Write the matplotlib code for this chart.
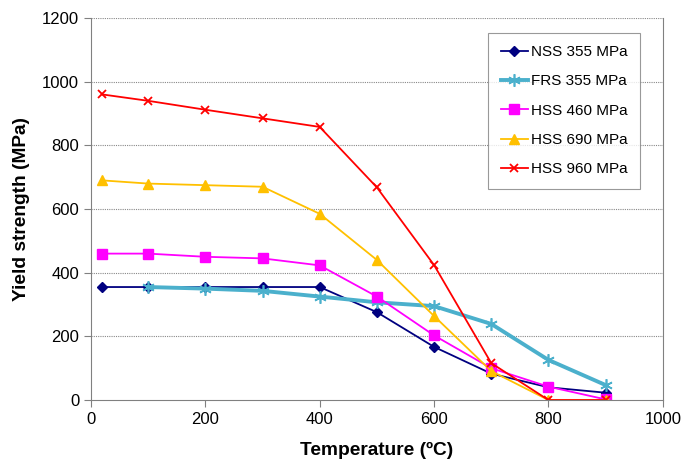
import matplotlib.pyplot as plt

plt.rcParams['font.family'] = ['Liberation Sans', 'DejaVu Sans']

temps = [20, 100, 200, 300, 400, 500, 600, 700, 800, 900]
temps_frs = [100, 200, 300, 400, 500, 600, 700, 800, 900]

nss_355 = [355, 355, 355, 355, 355, 276, 167, 83, 40, 23]
frs_355 = [355, 350, 343, 325, 307, 295, 239, 126, 47]
hss_460 = [460, 460, 450, 445, 423, 325, 203, 100, 42, 2]
hss_690 = [690, 680, 675, 670, 585, 440, 264, 91, 0, 0]
hss_960 = [960, 940, 912, 885, 858, 668, 424, 116, 0, 0]

xticks = [0, 200, 400, 600, 800, 1000]
yticks = [0, 200, 400, 600, 800, 1000, 1200]

fig = plt.figure(figsize=(6.84, 4.63), dpi=100)
ax = fig.add_axes([0.133, 0.136, 0.836, 0.825])

# horizontal dotted grid like the spreadsheet original
for y in yticks[1:]:
    ax.axhline(y, color="#888888", linestyle=(0, (1, 1)), linewidth=0.8, zorder=0)

ax.plot(temps, nss_355, color="#000080", marker="D", markersize=5, linewidth=1.3, label="NSS 355 MPa")
ax.plot(temps_frs, frs_355, color="#4BB0CC", marker=(6, 2, 0), markersize=9, markeredgewidth=1.2,
        linewidth=2.8, label="FRS 355 MPa")
ax.plot(temps, hss_460, color="#FF00FF", marker="s", markersize=7, linewidth=1.3, label="HSS 460 MPa")
ax.plot(temps, hss_690, color="#FFC000", marker="^", markersize=7, linewidth=1.3, label="HSS 690 MPa")
ax.plot(temps, hss_960, color="#FF0000", marker="x", markersize=6, markeredgewidth=1.3,
        linewidth=1.3, label="HSS 960 MPa")

ax.set_xlim(0, 1000)
ax.set_ylim(0, 1200)
ax.set_xticks(xticks)
ax.set_yticks(yticks)
ax.tick_params(labelsize=12, direction="out", length=5, color="#808080")
ax.spines["top"].set_visible(False)
for side in ["left", "bottom", "right"]:
    ax.spines[side].set_color("#808080")

ax.set_xlabel("Temperature (ºC)", fontsize=13.8, fontweight="bold", labelpad=11)
ax.set_ylabel("Yield strength (MPa)", fontsize=13.8, fontweight="bold", labelpad=9)

leg = ax.legend(loc="upper right", bbox_to_anchor=(0.96, 0.961), borderaxespad=0, fontsize=11,
                frameon=True, fancybox=False, edgecolor="#808080", handlelength=1.8,
                labelspacing=1.0, borderpad=0.8, handletextpad=0.2)
leg.get_frame().set_linewidth(0.8)

fig.savefig("out.png", dpi=100)
